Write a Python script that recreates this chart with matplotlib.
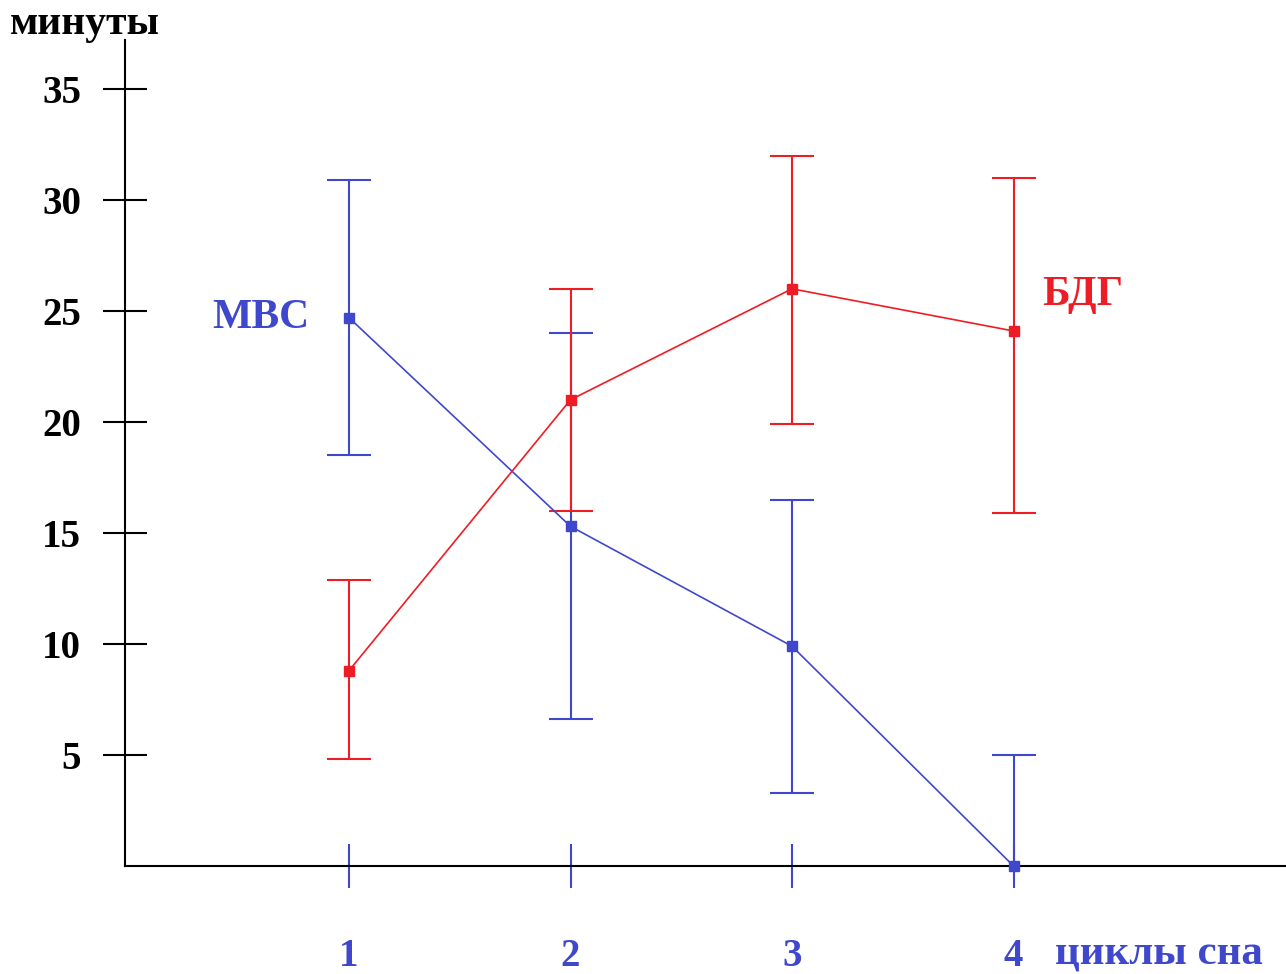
import matplotlib
matplotlib.use("Agg")
import matplotlib.pyplot as plt

# данные: циклы сна и минуты
cycles = [1, 2, 3, 4]
mvs = [24.7, 15.3, 9.9, 0.0]
mvs_low = [18.5, 6.6, 3.3, 0.0]
mvs_high = [30.9, 24.0, 16.5, 5.0]
bdg = [8.8, 21.0, 26.0, 24.1]
bdg_low = [4.8, 16.0, 19.9, 15.9]
bdg_high = [12.9, 26.0, 32.0, 31.0]
y_ticks = [5, 10, 15, 20, 25, 30, 35]

blue = "#3f48cc"
red = "#ee1c24"

plt.rcParams['font.family'] = ['Liberation Serif', 'DejaVu Serif']
plt.rcParams['font.weight'] = 'bold'

fig = plt.figure(figsize=(12.86, 9.74), dpi=100)
ax = fig.add_axes([125 / 1286, 108 / 974, 1 - 125 / 1286, (866 - 40) / 974])

def draw(vals, lo, hi, color):
    err = [[v - l for v, l in zip(vals, lo)], [h - v for v, h in zip(vals, hi)]]
    res = ax.errorbar(cycles, vals, yerr=err, color=color, lw=1.2,
                      elinewidth=1.5, capsize=16, capthick=1.5, marker='s',
                      markersize=7, clip_on=False, zorder=3)
    # нижняя засечка не рисуется, если ошибки вниз нет
    low_cap = res[1][0]
    xs = [x for x, v, l in zip(cycles, vals, lo) if l < v]
    ys = [l for v, l in zip(vals, lo) if l < v]
    low_cap.set_data(xs, ys)

draw(mvs, mvs_low, mvs_high, blue)
draw(bdg, bdg_low, bdg_high, red)

ax.set_xlim(1 - 224 / 221.5, 1 + 937 / 221.5)
ax.set_ylim(0, 826 / 22.2)

for s in ['top', 'right']:
    ax.spines[s].set_visible(False)
for s in ['left', 'bottom']:
    ax.spines[s].set_linewidth(1.5)

ax.set_yticks(y_ticks)
ax.set_xticks(cycles)
ax.tick_params(axis='y', direction='inout', length=31, width=1.5,
               pad=16, labelsize=28, colors='black')
ax.tick_params(axis='x', direction='inout', length=31, width=1.5,
               pad=36, labelsize=28, colors=blue)

fig.text(10 / 1286, 1 - 24 / 974, "минуты", fontsize=30, fontweight='bold',
         ha='left', va='center')
fig.text(1055 / 1286, 1 - 955 / 974, "циклы сна", fontsize=31,
         fontweight='bold', color=blue, ha='left', va='center')
ax.text(0.6, 24.7, "МВС", fontsize=30, fontweight='bold', color=blue,
        ha='center', va='center')
ax.text(1 + 734 / 221.5, 25.7, "БДГ", fontsize=30, fontweight='bold',
        color=red, ha='center', va='center')

fig.savefig("out.png", dpi=100)
